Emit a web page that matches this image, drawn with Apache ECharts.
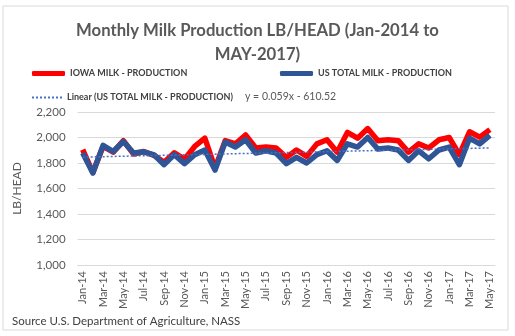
<!DOCTYPE html>
<html>
<head>
<meta charset="utf-8">
<script src="https://cdn.jsdelivr.net/npm/echarts@6/dist/echarts.min.js"></script>
<style>
  html, body { margin: 0; padding: 0; background: #fff; }
  #chart { width: 515px; height: 336px; }
</style>
</head>
<body>
<div id="chart"></div>
<script>
// Monthly categories, Jan-2014 .. May-2017
const months = [
  'Jan-14','Feb-14','Mar-14','Apr-14','May-14','Jun-14','Jul-14','Aug-14','Sep-14','Oct-14','Nov-14','Dec-14',
  'Jan-15','Feb-15','Mar-15','Apr-15','May-15','Jun-15','Jul-15','Aug-15','Sep-15','Oct-15','Nov-15','Dec-15',
  'Jan-16','Feb-16','Mar-16','Apr-16','May-16','Jun-16','Jul-16','Aug-16','Sep-16','Oct-16','Nov-16','Dec-16',
  'Jan-17','Feb-17','Mar-17','Apr-17','May-17'
];

// Milk production, LB per head
const iowaMilk = [
  1905, 1725, 1930, 1885, 1975, 1870, 1890, 1860, 1805, 1880, 1830, 1930,
  1995, 1760, 1975, 1950, 2020, 1918, 1925, 1918, 1844, 1902, 1852, 1950,
  1982, 1885, 2040, 1995, 2070, 1975, 1982, 1975, 1885, 1950, 1918, 1982,
  2000, 1865, 2045, 2003, 2062
];
const usMilk = [
  1878, 1722, 1938, 1890, 1969, 1878, 1888, 1864, 1787, 1866, 1795, 1865,
  1902, 1745, 1964, 1925, 1982, 1878, 1896, 1878, 1795, 1844, 1800, 1866,
  1896, 1820, 1950, 1925, 2000, 1909, 1918, 1902, 1820, 1896, 1833, 1902,
  1925, 1787, 1995, 1950, 2016
];

// Linear trend of the US series (y = 0.059x - 610.52), values at first and last month
const trendEnds = [1846, 1918];

// Value axis ticks
const yTicks = [1000, 1200, 1400, 1600, 1800, 2000, 2200];

const names = {
  iowa: 'IOWA MILK - PRODUCTION',
  us: 'US TOTAL MILK - PRODUCTION',
  trend: 'Linear (US TOTAL MILK - PRODUCTION)'
};

const grey = '#595959';
const font = 'Lato';

// dotted swatch for the trend legend entry
const dottedIcon = 'path://' + Array.from({ length: 8 }, (_, i) => 'M' + (i * 4) + ',0h2v2h-2z').join(' ');

const chart = echarts.init(document.getElementById('chart'), null, { renderer: 'canvas' });

const legendBase = {
  orient: 'horizontal',
  padding: 0,
  itemGap: 6,
  textStyle: { color: '#404040', fontFamily: font, fontSize: 9, fontWeight: 'bold' },
  selectedMode: false
};

chart.setOption({
  animation: false,
  backgroundColor: '#fff',
  textStyle: { fontFamily: font },
  title: {
    text: 'Monthly Milk Production LB/HEAD (Jan-2014 to\nMAY-2017)',
    left: 'center',
    top: 14,
    textStyle: { color: grey, fontFamily: font, fontSize: 16.7, fontWeight: 'bold', lineHeight: 24 }
  },
  legend: [
    Object.assign({}, legendBase, {
      data: [{ name: names.iowa, icon: 'roundRect' }],
      left: 32, top: 69, itemWidth: 33, itemHeight: 5
    }),
    Object.assign({}, legendBase, {
      data: [{ name: names.us, icon: 'roundRect' }],
      left: 280, top: 69, itemWidth: 33, itemHeight: 5
    }),
    Object.assign({}, legendBase, {
      data: [{ name: names.trend, icon: dottedIcon, itemStyle: { color: '#4472C4' } }],
      left: 32, top: 93, itemWidth: 30, itemHeight: 2
    })
  ],
  grid: { left: 77.6, right: 20, top: 112, bottom: 71, containLabel: false },
  xAxis: {
    type: 'category',
    data: months,
    boundaryGap: true,
    axisLine: { show: true, lineStyle: { color: '#D9D9D9' } },
    axisTick: { show: false },
    axisLabel: {
      interval: 1,
      rotate: 90,
      margin: 6,
      color: grey,
      fontFamily: font,
      fontSize: 11
    }
  },
  yAxis: {
    type: 'value',
    min: yTicks[0],
    max: yTicks[yTicks.length - 1],
    interval: 200,
    name: 'LB/HEAD',
    nameLocation: 'middle',
    nameRotate: 90,
    nameGap: 54,
    nameTextStyle: { color: grey, fontFamily: font, fontSize: 12 },
    axisLine: { show: false },
    axisTick: { show: false },
    splitLine: { lineStyle: { color: '#D9D9D9', width: 1 } },
    axisLabel: {
      margin: 12,
      color: grey,
      fontFamily: font,
      fontSize: 11.5,
      formatter: v => v.toLocaleString('en-US')
    }
  },
  series: [
    {
      name: names.iowa,
      type: 'line',
      data: iowaMilk,
      symbol: 'none',
      lineStyle: { color: '#FF0000', width: 5.5, join: 'round' },
      itemStyle: { color: '#FF0000' },
      z: 2
    },
    {
      name: names.us,
      type: 'line',
      data: usMilk,
      symbol: 'none',
      lineStyle: { color: '#2F5597', width: 5.5, join: 'round' },
      itemStyle: { color: '#2F5597' },
      z: 3
    },
    {
      name: names.trend,
      type: 'line',
      data: [[months[0], trendEnds[0]], [months[months.length - 1], trendEnds[1]]],
      symbol: 'none',
      lineStyle: { color: '#4472C4', width: 1.5, type: [2, 2] },
      itemStyle: { color: '#4472C4' },
      z: 4
    }
  ],
  graphic: [
    {
      type: 'rect',
      shape: { x: 3, y: 6, width: 505, height: 324 },
      style: { fill: 'none', stroke: '#D9D9D9', lineWidth: 1 },
      silent: true
    },
    {
      type: 'text',
      left: 245, top: 91.5,
      style: { text: 'y = 0.059x - 610.52', fill: grey, font: '10.5px Lato' }
    },
    {
      type: 'text',
      left: 12, top: 315,
      style: { text: 'Source U.S. Department of Agriculture, NASS', fill: '#404040', font: '11.5px Lato' }
    }
  ]
});
</script>
</body>
</html>
